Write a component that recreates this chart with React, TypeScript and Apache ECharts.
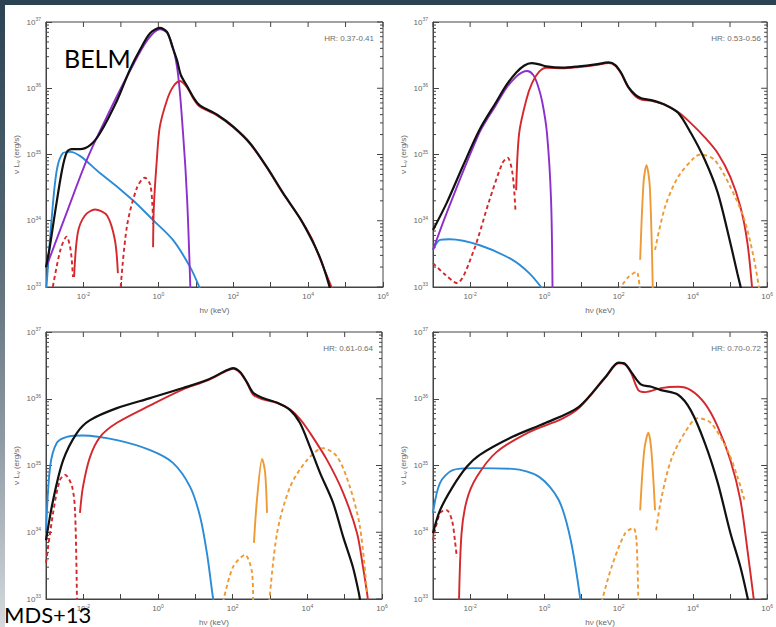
import React, { useEffect, useRef } from "react";
import * as echarts from "echarts";

// ---- data: [log10(hν / keV), log10(νLν / erg s^-1)] ----
// Panel 1  (HR 0.37-0.41)
const p1Total = [[-3.0,33.3],[-2.9,33.6],[-2.76,34.12],[-2.57,34.77],[-2.44,35.04],[-2.31,35.08],[-2.09,35.08],[-1.82,35.14],[-1.56,35.32],[-1.1,35.82],[-0.76,36.28],[-0.49,36.58],[-0.22,36.83],[0.04,36.91],[0.23,36.85],[0.39,36.6],[0.5,36.42],[0.6,36.2],[0.77,36.03],[0.95,35.85],[1.11,35.74],[1.57,35.6],[2.0,35.42],[2.45,35.17],[2.9,34.81],[3.33,34.42],[3.78,34.04],[4.1,33.71],[4.32,33.44],[4.48,33.18],[4.6,32.95]];
const p1Disk = [[-3.0,33.29],[-2.45,34.12],[-1.88,34.96],[-1.29,35.67],[-0.76,36.26],[-0.3,36.72],[0.04,36.89],[0.26,36.82],[0.5,36.32],[0.66,35.32],[0.77,34.31],[0.86,32.9]];
const p1Blue = [[-3.0,32.9],[-2.84,34.09],[-2.71,34.77],[-2.55,35.02],[-2.36,35.04],[-1.56,34.72],[-0.68,34.31],[-0.14,34.01],[0.39,33.71],[0.85,33.3],[1.11,32.98]];
const p1RedA = [[-2.25,33.15],[-2.15,33.82],[-1.96,34.08],[-1.69,34.17],[-1.37,34.08],[-1.16,33.71],[-1.08,33.21]];
const p1RedB = [[-0.14,33.6],[-0.12,34.21],[-0.04,34.92],[0.04,35.42],[0.23,35.82],[0.39,36.02],[0.58,36.11],[0.77,36.01],[0.95,35.83],[1.11,35.72],[1.57,35.59],[2.0,35.41],[2.45,35.16],[2.9,34.8],[3.33,34.41],[3.78,34.04],[4.1,33.73],[4.21,33.58],[4.43,33.27],[4.66,32.95]];
const p1RedNegA = [[-2.85,32.9],[-2.62,33.55],[-2.45,33.76],[-2.34,33.55],[-2.28,33.15]];
const p1RedNegB = [[-1.02,32.9],[-0.84,33.91],[-0.57,34.5],[-0.36,34.65],[-0.22,34.55],[-0.16,34.25],[-0.14,33.95]];

// Panel 2  (HR 0.53-0.56)
const p2Total = [[-3.0,33.86],[-2.63,34.27],[-2.2,34.82],[-1.74,35.38],[-1.29,35.8],[-1.02,36.05],[-0.75,36.24],[-0.55,36.34],[-0.35,36.38],[-0.14,36.36],[0.05,36.33],[0.48,36.31],[0.93,36.33],[1.38,36.36],[1.73,36.39],[1.91,36.35],[2.07,36.23],[2.26,36.02],[2.45,35.9],[2.61,35.85],[2.88,35.82],[3.25,35.75],[3.6,35.63],[3.95,35.32],[4.32,34.92],[4.67,34.42],[5.01,33.66],[5.2,33.2],[5.33,32.9]];
const p2Disk = [[-3.0,33.56],[-2.63,34.12],[-1.74,35.34],[-1.29,35.76],[-1.02,36.01],[-0.75,36.18],[-0.6,36.24],[-0.46,36.26],[-0.3,36.2],[-0.18,36.05],[-0.06,35.8],[0.07,35.32],[0.18,34.31],[0.22,32.9]];
const p2Blue = [[-3.0,33.56],[-2.81,33.71],[-2.55,33.72],[-1.74,33.63],[-0.86,33.41],[-0.41,33.21],[-0.06,32.98]];
const p2Red = [[-0.76,34.46],[-0.68,35.32],[-0.49,35.82],[-0.33,36.08],[-0.14,36.25],[0.05,36.31],[0.48,36.3],[0.93,36.32],[1.38,36.35],[1.73,36.38],[1.91,36.34],[2.07,36.22],[2.26,36.01],[2.45,35.88],[2.61,35.83],[2.88,35.81],[3.25,35.75],[3.6,35.64],[3.95,35.47],[4.32,35.26],[4.67,35.02],[5.01,34.66],[5.28,34.21],[5.47,33.66],[5.6,32.95]];
const p2RedNeg = [[-3.0,33.36],[-2.7,33.2],[-2.36,33.06],[-1.93,33.51],[-1.48,34.31],[-1.13,34.87],[-0.99,34.95],[-0.86,34.72],[-0.78,34.16]];
const p2Orange = [[2.58,33.41],[2.67,34.57],[2.75,34.84],[2.84,34.51],[2.92,32.95]];
const p2OrangeNegA = [[2.0,32.95],[2.26,33.15],[2.48,33.23],[2.57,32.95]];
const p2OrangeNegB = [[2.98,33.56],[3.25,34.21],[3.6,34.66],[4.05,34.96],[4.21,35.0],[4.58,34.92],[5.01,34.51],[5.39,34.01],[5.65,33.41],[5.79,32.95]];

// Panel 3  (HR 0.61-0.64)
const p3Total = [[-3.0,33.88],[-2.81,34.48],[-2.54,35.08],[-2.17,35.49],[-1.82,35.68],[-1.1,35.86],[-0.21,36.01],[0.67,36.16],[1.31,36.28],[1.85,36.43],[2.01,36.46],[2.2,36.4],[2.38,36.25],[2.55,36.09],[2.81,36.01],[3.19,35.94],[3.54,35.83],[3.8,35.64],[4.07,35.28],[4.34,34.89],[4.69,34.44],[4.96,33.93],[5.22,33.48],[5.38,33.09],[5.42,32.95]];
const p3Blue = [[-3.0,33.99],[-2.89,34.98],[-2.71,35.34],[-2.44,35.43],[-2.01,35.45],[-1.1,35.38],[-0.21,35.23],[0.4,35.04],[0.86,34.68],[1.13,34.23],[1.31,33.69],[1.47,33.03],[1.5,32.95]];
const p3Red = [[-2.09,34.29],[-2.01,34.68],[-1.82,35.13],[-1.55,35.43],[-1.1,35.64],[-0.21,35.9],[0.67,36.14],[1.31,36.27],[1.85,36.42],[2.01,36.45],[2.2,36.39],[2.38,36.24],[2.55,36.06],[2.81,35.99],[3.19,35.94],[3.54,35.84],[3.8,35.7],[4.07,35.49],[4.53,35.08],[4.96,34.59],[5.33,33.99],[5.49,33.48],[5.6,33.09],[5.63,32.95]];
const p3RedNeg = [[-3.0,33.54],[-2.81,34.29],[-2.63,34.78],[-2.49,34.86],[-2.3,34.68],[-2.22,34.29],[-2.17,32.95]];
const p3Orange = [[2.57,33.84],[2.65,34.48],[2.79,35.1],[2.87,34.89],[2.92,34.29]];
const p3OrangeNegA = [[1.74,32.95],[2.01,33.48],[2.33,33.66],[2.52,33.39],[2.55,32.95]];
const p3OrangeNegB = [[2.98,32.95],[3.19,33.99],[3.54,34.68],[3.99,35.08],[4.42,35.26],[4.8,35.13],[5.14,34.68],[5.41,34.08],[5.6,33.09]];

// Panel 4  (HR 0.70-0.72)
const p4Total = [[-3.0,33.99],[-2.81,34.33],[-2.47,34.68],[-2.09,34.98],[-1.74,35.16],[-0.86,35.43],[0.04,35.64],[0.93,35.88],[1.65,36.33],[2.0,36.54],[2.18,36.52],[2.34,36.4],[2.61,36.21],[2.88,36.18],[3.14,36.13],[3.6,36.06],[3.94,35.83],[4.32,35.34],[4.67,34.74],[5.01,33.99],[5.28,33.48],[5.5,32.95]];
const p4Blue = [[-3.0,34.29],[-2.81,34.74],[-2.47,34.93],[-1.93,34.96],[-0.86,34.95],[-0.14,34.83],[0.39,34.48],[0.71,33.88],[0.98,32.95]];
const p4Red = [[-2.3,32.95],[-2.23,33.99],[-2.09,34.48],[-1.82,34.83],[-1.29,35.2],[-0.41,35.5],[0.47,35.7],[0.93,35.86],[1.65,36.32],[2.0,36.53],[2.18,36.51],[2.34,36.38],[2.53,36.13],[2.72,36.1],[3.14,36.16],[3.6,36.18],[3.94,36.13],[4.32,35.93],[4.67,35.58],[5.01,35.08],[5.28,34.48],[5.47,33.73],[5.65,32.95]];
const p4RedNeg = [[-3.0,33.88],[-2.81,34.29],[-2.63,34.33],[-2.49,34.18],[-2.41,33.88],[-2.36,33.63]];
const p4Orange = [[2.58,34.33],[2.69,35.23],[2.8,35.49],[2.88,35.23],[2.98,34.33]];
const p4OrangeNegA = [[1.54,32.95],[1.81,33.48],[2.18,33.99],[2.4,34.06],[2.48,33.88],[2.53,32.95]];
const p4OrangeNegB = [[3.01,34.03],[3.14,34.48],[3.41,35.08],[3.78,35.49],[4.13,35.71],[4.48,35.64],[4.93,35.23],[5.2,34.83],[5.39,34.48]];

const hrLabels = ["HR: 0.37-0.41", "HR: 0.53-0.56", "HR: 0.61-0.64", "HR: 0.70-0.72"];
const xExponents = [-3, -2, -1, 0, 1, 2, 3, 4, 5, 6];
const yExponents = [33, 34, 35, 36, 37];

const BLACK = "#111111";
const PURPLE = "#8d2fcb";
const BLUE = "#2b8bd6";
const RED = "#d4282c";
const ORANGE = "#ee9a36";

type Pts = number[][];
type Curve = { d: Pts; c: string; dash?: boolean; w?: number };

const panels: Curve[][] = [
  [
    { d: p1Blue, c: BLUE }, { d: p1Disk, c: PURPLE },
    { d: p1RedNegA, c: RED, dash: true }, { d: p1RedNegB, c: RED, dash: true },
    { d: p1RedA, c: RED }, { d: p1RedB, c: RED },
    { d: p1Total, c: BLACK, w: 2.2 },
  ],
  [
    { d: p2Blue, c: BLUE }, { d: p2Disk, c: PURPLE },
    { d: p2RedNeg, c: RED, dash: true }, { d: p2Red, c: RED },
    { d: p2OrangeNegA, c: ORANGE, dash: true }, { d: p2OrangeNegB, c: ORANGE, dash: true },
    { d: p2Orange, c: ORANGE },
    { d: p2Total, c: BLACK, w: 2.2 },
  ],
  [
    { d: p3Blue, c: BLUE },
    { d: p3RedNeg, c: RED, dash: true }, { d: p3Red, c: RED },
    { d: p3OrangeNegA, c: ORANGE, dash: true }, { d: p3OrangeNegB, c: ORANGE, dash: true },
    { d: p3Orange, c: ORANGE },
    { d: p3Total, c: BLACK, w: 2.2 },
  ],
  [
    { d: p4Blue, c: BLUE },
    { d: p4RedNeg, c: RED, dash: true }, { d: p4Red, c: RED },
    { d: p4OrangeNegA, c: ORANGE, dash: true }, { d: p4OrangeNegB, c: ORANGE, dash: true },
    { d: p4Orange, c: ORANGE },
    { d: p4Total, c: BLACK, w: 2.2 },
  ],
];

const grids = [
  { left: 46, top: 22, width: 337, height: 265 },
  { left: 433, top: 22, width: 337, height: 265 },
  { left: 46, top: 332, width: 336, height: 267 },
  { left: 433, top: 332, width: 337, height: 267 },
];

const FONT = "'Liberation Sans', 'DejaVu Sans', sans-serif";
const AXIS = "#444";
const LABEL = "#666";

const expRich = {
  b: { fontSize: 8, color: LABEL, fontFamily: FONT },
  e: { fontSize: 5, color: LABEL, fontFamily: FONT, padding: [0, 0, 6, 0] },
};

function buildOption() {
  const xMin = Math.pow(10, xExponents[0]);
  const xMax = Math.pow(10, xExponents[xExponents.length - 1]);
  const yMin = Math.pow(10, yExponents[0]);
  const yMax = Math.pow(10, yExponents[yExponents.length - 1]);

  const xAxis: any[] = [];
  const yAxis: any[] = [];
  const series: any[] = [];
  const title: any[] = [];

  grids.forEach((g, i) => {
    xAxis.push({
      type: "log", logBase: 10, gridIndex: i, min: xMin, max: xMax, splitNumber: 9,
      axisLine: { show: true, lineStyle: { color: AXIS, width: 1 } },
      axisTick: { show: true, inside: true, length: 5, lineStyle: { color: AXIS } },
      splitLine: { show: false },
      axisLabel: {
        interval: 0, margin: 4, showMinLabel: true, showMaxLabel: true,
        formatter: (v: number) => {
          const e = Math.round(Math.log10(v));
          return e % 2 === 0 ? `{b|10}{e|${e}}` : "";
        },
        rich: expRich,
      },
      name: "hν (keV)", nameLocation: "middle", nameGap: 19,
      nameTextStyle: { fontSize: 8, color: LABEL, fontFamily: FONT },
    });
    yAxis.push({
      type: "log", logBase: 10, gridIndex: i, min: yMin, max: yMax, splitNumber: 4,
      axisLine: { show: true, lineStyle: { color: AXIS, width: 1 } },
      axisTick: { show: true, inside: true, length: 6, lineStyle: { color: AXIS } },
      splitLine: { show: false },
      axisLabel: {
        interval: 0, margin: 5, showMinLabel: true, showMaxLabel: true,
        formatter: (v: number) => `{b|10}{e|${Math.round(Math.log10(v))}}`,
        rich: expRich,
      },
      name: "{a|ν L}{s|ν}{a| (erg/s)}", nameLocation: "middle", nameGap: 25, nameRotate: 90,
      nameTextStyle: {
        rich: {
          a: { fontSize: 8, color: LABEL, fontFamily: FONT },
          s: { fontSize: 6, color: LABEL, fontFamily: FONT, padding: [4, 0, 0, 0] },
        },
      },
    });

    panels[i].forEach((cv) => {
      series.push({
        type: "line", xAxisIndex: i, yAxisIndex: i, silent: true, showSymbol: false, symbol: "none",
        smooth: 0.3, clip: true,
        data: cv.d.map(([a, b]) => [Math.pow(10, a), Math.pow(10, b)]),
        lineStyle: { color: cv.c, width: cv.w ?? 1.9, type: cv.dash ? [4, 3] : "solid" },
      });
    });

    // minor / mirrored ticks
    const tickData: number[][] = [];
    for (let k = 0; k < yExponents.length - 1; k++) {
      for (let m = 2; m <= 9; m++) tickData.push([xMin, m * Math.pow(10, yExponents[k]), 0]);
    }
    yExponents.forEach((e) => tickData.push([xMin, Math.pow(10, e), 1]));
    xExponents.forEach((e) => tickData.push([Math.pow(10, e), yMax, 2]));
    series.push({
      type: "custom", xAxisIndex: i, yAxisIndex: i, silent: true, clip: false,
      encode: { x: 0, y: 1 },
      data: tickData,
      renderItem: (params: any, api: any) => {
        const cs = params.coordSys;
        const kind = api.value(2);
        const p = api.coord([api.value(0), api.value(1)]);
        const st = { stroke: AXIS, lineWidth: 1 };
        if (kind === 2) {
          return { type: "line", shape: { x1: p[0], y1: cs.y, x2: p[0], y2: cs.y + 5 }, style: st };
        }
        const len = kind === 1 ? 6 : 3;
        const children: any[] = [
          { type: "line", shape: { x1: cs.x + cs.width, y1: p[1], x2: cs.x + cs.width - len, y2: p[1] }, style: st },
        ];
        if (kind === 0) {
          children.push({ type: "line", shape: { x1: cs.x, y1: p[1], x2: cs.x + len, y2: p[1] }, style: st });
        }
        return { type: "group", children };
      },
    });

    title.push({
      text: hrLabels[i], right: 776 - (g.left + g.width) + 9, top: g.top + 12, padding: 0,
      textStyle: { fontSize: 8, color: "#6e6e6e", fontWeight: "normal", fontFamily: FONT },
    });
  });

  title.push({
    text: "BELM", left: 64, top: 45, padding: 0,
    textStyle: { fontSize: 25, color: "#000", fontWeight: "normal", fontFamily: "Lato, 'Open Sans', sans-serif" },
  });
  title.push({
    text: "MDS+13", left: 4, top: 603, padding: 0,
    textStyle: { fontSize: 22, color: "#000", fontWeight: "normal", fontFamily: "Lato, 'Open Sans', sans-serif" },
  });

  return {
    animation: false,
    backgroundColor: "transparent",
    title,
    grid: grids.map((g) => ({ ...g, show: true, borderColor: AXIS, borderWidth: 1, backgroundColor: "transparent" })),
    xAxis, yAxis, series,
  };
}

export default function App() {
  const ref = useRef<HTMLDivElement>(null);
  useEffect(() => {
    if (!ref.current) return;
    const chart = echarts.init(ref.current, undefined, { renderer: "svg" });
    chart.setOption(buildOption() as any);
    return () => chart.dispose();
  }, []);
  return (
    <div style={{ position: "fixed", left: 0, top: 0, width: 776, height: 627, background: "#fff", overflow: "hidden" }}>
      <div style={{ position: "absolute", left: 0, top: 0, width: 776, height: 5, background: "#2b4252" }} />
      <div
        style={{
          position: "absolute", left: 0, top: 0, width: 5, height: 627,
          background: "linear-gradient(#2b4252 0%, #50636f 35%, #8e9aa3 70%, #d6dadd 100%)",
        }}
      />
      <div ref={ref} style={{ position: "absolute", left: 0, top: 0, width: 776, height: 627 }} />
    </div>
  );
}
